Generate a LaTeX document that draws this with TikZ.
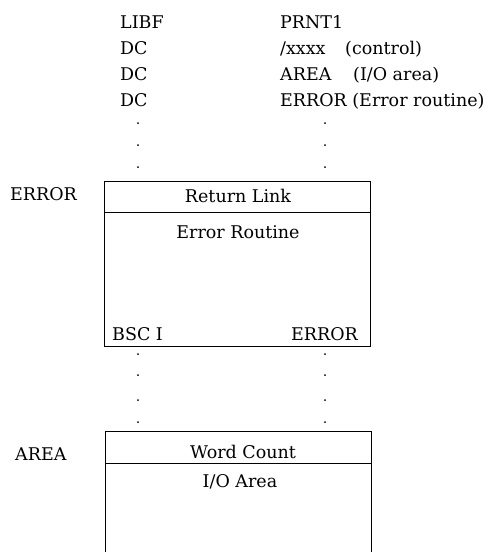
\documentclass[tikz,border=0pt]{standalone}
\usepackage{fontspec}
\setmainfont{DejaVu Serif}
\begin{document}
\begin{tikzpicture}[x=1pt,y=-1pt,
  txt/.style={inner sep=0pt,font=\fontsize{17.5}{19}\selectfont},
  lt/.style={txt,anchor=base west},
  rt/.style={txt,anchor=base east},
  ct/.style={txt,anchor=base},
  dotn/.style={circle,fill=black,inner sep=0pt,minimum size=2pt},
  boxline/.style={line width=1pt}]
\useasboundingbox (0,0) rectangle (493,552);
% header rows
\node[lt] (c1r1) at (120,28) {LIBF};
\node[lt] (c1r2) at (120,54) {DC};
\node[lt] (c1r3) at (120,80) {DC};
\node[lt] (c1r4) at (120,106) {DC};
\node[lt] (c2r1) at (280,28) {PRNT1};
\node[lt] (c2r2) at (280,54) {/xxxx};
\node[lt] (c2r3) at (280,80) {AREA};
\node[lt] (c2r4) at (280,106) {ERROR (Error routine)};
\node[lt] (p2) at (345,54) {(control)};
\node[lt] (p3) at (353,80) {(I/O area)};
% dots
\foreach \i/\y in {1/123,2/145,3/167,4/354,5/375,6/400,7/422}{
  \node[dotn] (dl\i) at (138,\y) {};
  \node[dotn] (dr\i) at (325,\y) {};
}
% box 1
\draw[boxline] (104,181) rectangle (370,346);
\draw[boxline] (104,212) -- (370,212);
\node[ct] (ret) at (238,202) {Return Link};
\node[ct] (erout) at (238,238) {Error Routine};
\node[lt] (bsc) at (112,340) {BSC I};
\node[rt] (err2) at (358,340) {ERROR};
\node[lt] (errl) at (10,200) {ERROR};
% box 2
\draw[boxline] (105,552) -- (105,431) -- (371,431) -- (371,552);
\draw[boxline] (105,463) -- (371,463);
\node[ct] (wc) at (243,458) {Word Count};
\node[ct] (io) at (240,487) {I/O Area};
\node[lt] (areal) at (15,460) {AREA};
\end{tikzpicture}
\end{document}
